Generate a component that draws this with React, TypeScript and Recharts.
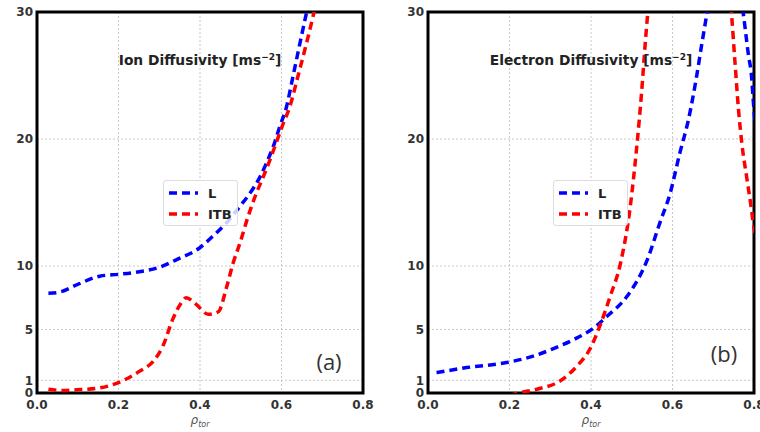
import {
  CartesianGrid,
  Line,
  LineChart,
  ReferenceArea,
  XAxis,
  YAxis,
} from 'recharts'

// rho_tor positions and values (values above 30 are clipped)
const ionLRho = [0.028, 0.056, 0.1, 0.154, 0.202, 0.251, 0.3, 0.349, 0.398, 0.43, 0.465, 0.498, 0.522, 0.547, 0.563, 0.583, 0.596, 0.612, 0.628, 0.645, 0.661, 0.675]
const ionL = [7.85, 7.95, 8.55, 9.2, 9.35, 9.55, 9.9, 10.6, 11.4, 12.3, 13.4, 14.7, 15.7, 17.0, 18.1, 19.7, 21.0, 22.5, 24.9, 27.5, 29.9, 32]

const ionItbRho = [0.028, 0.064, 0.097, 0.154, 0.198, 0.251, 0.288, 0.309, 0.333, 0.354, 0.366, 0.39, 0.42, 0.445, 0.465, 0.481, 0.498, 0.518, 0.538, 0.555, 0.571, 0.587, 0.604, 0.62, 0.64, 0.661, 0.677, 0.69]
const ionItb = [0.3, 0.2, 0.25, 0.4, 0.8, 1.7, 2.6, 3.7, 5.8, 7.1, 7.5, 7.0, 6.2, 6.4, 8.3, 10.2, 11.8, 13.9, 15.7, 17.0, 18.3, 19.7, 21.2, 22.5, 24.9, 27.5, 29.6, 31.5]

const eleLRho = [0.021, 0.095, 0.193, 0.258, 0.308, 0.357, 0.406, 0.438, 0.488, 0.537, 0.569, 0.594, 0.618, 0.639, 0.659, 0.672, 0.684, 0.7, 0.725, 0.75, 0.774, 0.786, 0.794, 0.798, 0.82]
const eleL = [1.6, 2.0, 2.4, 2.9, 3.5, 4.2, 5.1, 6.0, 7.6, 10.4, 13.4, 15.7, 18.9, 21.5, 24.9, 27.5, 29.8, 33, 36, 34, 29.8, 26.7, 24.9, 23.1, 17]

const eleItbRho = [0.2, 0.226, 0.267, 0.324, 0.365, 0.398, 0.422, 0.447, 0.473, 0.496, 0.512, 0.524, 0.533, 0.54, 0.56, 0.65, 0.73, 0.745, 0.753, 0.762, 0.77, 0.782, 0.794, 0.798, 0.81]
const eleItb = [-0.2, 0.03, 0.3, 0.95, 2.1, 3.5, 5.3, 7.6, 10.3, 14.6, 19.3, 23.6, 27.5, 30.2, 36, 45, 36, 29.8, 26.2, 22.3, 19.7, 17.0, 14.4, 13.4, 12]

const xTicks = [0, 0.2, 0.4, 0.6, 0.8]
const yTicks = [0, 1, 5, 10, 20, 30]
const seriesNames = ['L', 'ITB']

const toPoints = (rho: number[], vals: number[]) => rho.map((x, i) => ({ x, v: vals[i] }))

const tickStyle = { fill: '#333', fontSize: 12, fontWeight: 'bold', fontFamily: 'DejaVu Sans' }
const BLUE = '#0000ff'
const RED = '#ff0000'
const DASH = '8 5'

type PanelProps = {
  left: number
  title: string
  tag: string
  lData: { x: number; v: number }[]
  itbData: { x: number; v: number }[]
  yWidth: number
  marginRight: number
  legendLeft: number
  tagX: number
  tagY: number
}

function Panel({ left, title, tag, lData, itbData, yWidth, marginRight, legendLeft, tagX, tagY }: PanelProps) {
  const plotCenter = yWidth + (380 - yWidth - marginRight) / 2
  return (
    <div style={{ position: 'absolute', left, top: 0, width: 380, height: 432 }}>
      <LineChart width={380} height={432} margin={{ top: 12, right: marginRight, bottom: 0, left: 0 }}>
        <CartesianGrid stroke="#c8c8c8" strokeDasharray="2 2" />
        <XAxis
          dataKey="x"
          type="number"
          domain={[0, 0.8]}
          ticks={xTicks}
          allowDataOverflow
          interval={0}
          tickFormatter={(v: number) => v.toFixed(1)}
          axisLine={false}
          tickLine={false}
          tickSize={3}
          tickMargin={4}
          height={39}
          tick={tickStyle}
        />
        <YAxis
          type="number"
          domain={[0, 30]}
          ticks={yTicks}
          allowDataOverflow
          interval={0}
          axisLine={false}
          tickLine={false}
          tickSize={3}
          tickMargin={1}
          width={yWidth}
          tick={tickStyle}
        />
        <Line
          data={lData}
          dataKey="v"
          type="monotone"
          stroke={BLUE}
          strokeWidth={3.5}
          strokeDasharray={DASH}
          dot={false}
          isAnimationActive={false}
        />
        <Line
          data={itbData}
          dataKey="v"
          type="monotone"
          stroke={RED}
          strokeWidth={3.5}
          strokeDasharray={DASH}
          dot={false}
          isAnimationActive={false}
        />
        <ReferenceArea x1={0} x2={0.8} y1={0} y2={30} fill="none" stroke="#000" strokeWidth={3} />
      </LineChart>

      <div
        style={{
          position: 'absolute',
          left: plotCenter,
          top: 60,
          transform: 'translate(-50%, -50%)',
          whiteSpace: 'nowrap',
          fontFamily: 'DejaVu Sans',
          fontWeight: 'bold',
          fontSize: 13.8,
          color: '#222',
        }}
      >
        {title} [ms<sup style={{ fontSize: 9 }}>−2</sup>]
      </div>

      <div
        style={{
          position: 'absolute',
          left: legendLeft,
          top: 180,
          width: 75,
          height: 46,
          boxSizing: 'border-box',
          border: '1px solid #ddd',
          borderRadius: 3,
          background: 'rgba(255,255,255,0.8)',
          fontFamily: 'DejaVu Sans',
          fontWeight: 'bold',
          fontSize: 13,
          color: '#222',
        }}
      >
        {seriesNames.map((name, i) => (
          <div key={name} style={{ position: 'absolute', left: 4, top: 4 + i * 21, height: 16, display: 'flex', alignItems: 'center' }}>
            <svg width={30} height={16}>
              <line x1={1} y1={8} x2={30} y2={8} stroke={i === 0 ? BLUE : RED} strokeWidth={3.5} strokeDasharray={DASH} />
            </svg>
            <span style={{ marginLeft: 10 }}>{name}</span>
          </div>
        ))}
      </div>

      <div
        style={{
          position: 'absolute',
          left: tagX,
          top: tagY,
          transform: 'translate(-50%, -50%)',
          fontFamily: 'Open Sans',
          fontSize: 22,
          color: '#333',
        }}
      >
        {tag}
      </div>

      <div
        style={{
          position: 'absolute',
          left: plotCenter,
          top: 421,
          transform: 'translate(-50%, -50%)',
          fontFamily: 'DejaVu Sans',
          fontStyle: 'italic',
          fontSize: 12,
          color: '#555',
          whiteSpace: 'nowrap',
        }}
      >
        ρ<sub style={{ fontSize: 8 }}>tor</sub>
      </div>
    </div>
  )
}

export default function App() {
  return (
    <div style={{ position: 'absolute', left: 0, top: 0, width: 760, height: 432, overflow: 'hidden', background: '#fff' }}>
      <Panel
        left={0}
        title="Ion Diffusivity"
        tag="(a)"
        lData={toPoints(ionLRho, ionL)}
        itbData={toPoints(ionItbRho, ionItb)}
        yWidth={37}
        marginRight={17}
        legendLeft={163}
        tagX={329}
        tagY={361}
      />
      <Panel
        left={380}
        title="Electron Diffusivity"
        tag="(b)"
        lData={toPoints(eleLRho, eleL)}
        itbData={toPoints(eleItbRho, eleItb)}
        yWidth={48}
        marginRight={6}
        legendLeft={173}
        tagX={344}
        tagY={353}
      />
    </div>
  )
}
